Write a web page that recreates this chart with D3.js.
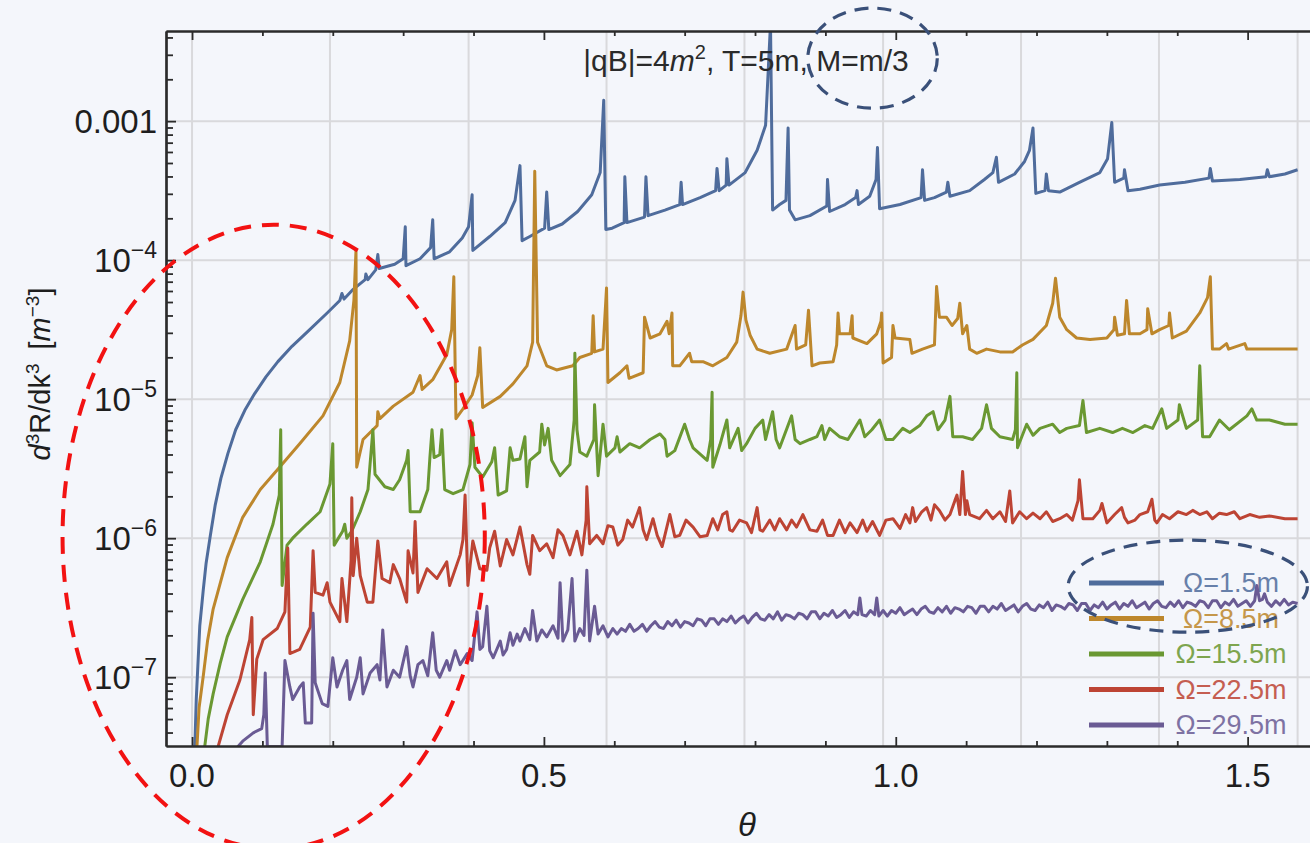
<!DOCTYPE html>
<html><head><meta charset="utf-8">
<script src="https://cdn.jsdelivr.net/npm/d3@7"></script>
<style>
body{margin:0;background:#f4f6fb;}
svg{display:block;font-family:"Liberation Sans",Arial,sans-serif;}
</style>
</head><body>
<svg id="chart" width="1310" height="843"></svg>
<script>
// ---------------- DATA (theta, log10 of d3R/dk3 in m^-3) ----------------
const seriesNames = ["Ω=1.5m", "Ω=8.5m", "Ω=15.5m", "Ω=22.5m", "Ω=29.5m"];
const seriesColors = ["#4f6c9c", "#bd872c", "#6a9832", "#bd4434", "#6a5b94"];

const omega1_5 = [[0.004,-7.50],[0.006,-7.16],[0.009,-6.84],[0.011,-6.63],[0.016,-6.37],[0.020,-6.18],[0.026,-5.98],[0.033,-5.76],[0.041,-5.57],[0.051,-5.39],[0.062,-5.22],[0.075,-5.08],[0.089,-4.96],[0.105,-4.84],[0.122,-4.73],[0.142,-4.62],[0.165,-4.51],[0.192,-4.38],[0.210,-4.29],[0.213,-4.24],[0.216,-4.28],[0.229,-4.21],[0.246,-4.14],[0.247,-4.10],[0.250,-4.14],[0.261,-4.07],[0.264,-3.96],[0.266,-4.06],[0.288,-4.03],[0.300,-3.99],[0.303,-3.76],[0.304,-4.04],[0.324,-3.99],[0.339,-3.91],[0.342,-3.71],[0.344,-3.99],[0.366,-3.94],[0.384,-3.84],[0.393,-3.76],[0.398,-3.53],[0.399,-3.93],[0.423,-3.83],[0.445,-3.73],[0.459,-3.57],[0.466,-3.32],[0.469,-3.86],[0.480,-3.83],[0.501,-3.77],[0.504,-3.51],[0.507,-3.78],[0.526,-3.74],[0.548,-3.65],[0.568,-3.53],[0.580,-3.37],[0.585,-2.85],[0.588,-3.78],[0.597,-3.77],[0.614,-3.73],[0.615,-3.40],[0.618,-3.73],[0.643,-3.69],[0.645,-3.40],[0.648,-3.68],[0.672,-3.64],[0.693,-3.60],[0.695,-3.44],[0.697,-3.60],[0.722,-3.55],[0.744,-3.50],[0.746,-3.34],[0.749,-3.50],[0.759,-3.46],[0.760,-3.27],[0.763,-3.46],[0.786,-3.37],[0.803,-3.21],[0.815,-3.03],[0.822,-2.30],[0.825,-3.64],[0.835,-3.60],[0.844,-3.57],[0.847,-3.05],[0.849,-3.64],[0.857,-3.71],[0.878,-3.68],[0.902,-3.61],[0.903,-3.42],[0.906,-3.65],[0.928,-3.60],[0.943,-3.55],[0.945,-3.50],[0.947,-3.60],[0.963,-3.54],[0.972,-3.42],[0.974,-3.19],[0.977,-3.63],[1.006,-3.60],[1.036,-3.55],[1.038,-3.35],[1.041,-3.57],[1.055,-3.55],[1.072,-3.51],[1.074,-3.44],[1.077,-3.54],[1.105,-3.50],[1.126,-3.42],[1.138,-3.37],[1.143,-3.26],[1.146,-3.44],[1.169,-3.38],[1.183,-3.29],[1.190,-3.21],[1.195,-3.05],[1.199,-3.52],[1.212,-3.50],[1.214,-3.38],[1.217,-3.50],[1.233,-3.51],[1.261,-3.44],[1.290,-3.37],[1.301,-3.27],[1.307,-3.01],[1.311,-3.44],[1.324,-3.41],[1.325,-3.35],[1.330,-3.50],[1.347,-3.49],[1.375,-3.46],[1.411,-3.44],[1.445,-3.41],[1.447,-3.34],[1.450,-3.43],[1.489,-3.42],[1.526,-3.40],[1.528,-3.35],[1.531,-3.40],[1.553,-3.38],[1.571,-3.35]];

const omega8_5 = [[0.007,-7.50],[0.010,-7.22],[0.016,-6.99],[0.022,-6.74],[0.030,-6.51],[0.050,-6.14],[0.072,-5.85],[0.097,-5.65],[0.121,-5.51],[0.153,-5.32],[0.186,-5.12],[0.210,-4.88],[0.224,-4.58],[0.230,-4.29],[0.233,-3.93],[0.234,-5.49],[0.243,-5.29],[0.263,-5.19],[0.264,-5.09],[0.267,-5.14],[0.286,-5.05],[0.314,-4.95],[0.324,-4.83],[0.327,-4.93],[0.342,-4.86],[0.362,-4.68],[0.369,-4.50],[0.372,-4.12],[0.375,-5.14],[0.385,-5.07],[0.398,-4.97],[0.406,-4.83],[0.409,-4.63],[0.413,-5.06],[0.438,-4.98],[0.456,-4.89],[0.476,-4.76],[0.484,-4.59],[0.487,-3.36],[0.491,-4.59],[0.504,-4.76],[0.518,-4.79],[0.541,-4.76],[0.551,-4.70],[0.568,-4.67],[0.570,-4.40],[0.572,-4.66],[0.584,-4.64],[0.588,-4.29],[0.589,-4.20],[0.591,-4.88],[0.608,-4.81],[0.618,-4.76],[0.621,-4.85],[0.641,-4.81],[0.643,-4.41],[0.651,-4.56],[0.665,-4.53],[0.675,-4.44],[0.678,-4.53],[0.682,-4.38],[0.683,-4.76],[0.693,-4.76],[0.707,-4.67],[0.710,-4.73],[0.726,-4.73],[0.740,-4.76],[0.760,-4.70],[0.774,-4.59],[0.780,-4.40],[0.783,-4.23],[0.787,-4.43],[0.793,-4.54],[0.803,-4.64],[0.821,-4.67],[0.845,-4.64],[0.857,-4.47],[0.859,-4.64],[0.872,-4.61],[0.876,-4.36],[0.881,-4.76],[0.892,-4.74],[0.911,-4.73],[0.916,-4.61],[0.918,-4.38],[0.920,-4.53],[0.935,-4.53],[0.938,-4.40],[0.939,-4.56],[0.959,-4.60],[0.973,-4.53],[0.979,-4.44],[0.980,-4.38],[0.982,-4.74],[0.994,-4.70],[0.996,-4.47],[0.999,-4.56],[1.020,-4.57],[1.023,-4.67],[1.038,-4.64],[1.055,-4.61],[1.058,-4.19],[1.062,-4.41],[1.072,-4.41],[1.080,-4.47],[1.088,-4.42],[1.091,-4.31],[1.095,-4.53],[1.101,-4.47],[1.105,-4.64],[1.115,-4.67],[1.129,-4.64],[1.148,-4.66],[1.166,-4.66],[1.180,-4.61],[1.195,-4.57],[1.214,-4.47],[1.223,-4.31],[1.227,-4.13],[1.233,-4.41],[1.243,-4.50],[1.257,-4.56],[1.276,-4.57],[1.300,-4.56],[1.310,-4.50],[1.311,-4.41],[1.315,-4.54],[1.325,-4.53],[1.328,-4.29],[1.332,-4.53],[1.347,-4.53],[1.357,-4.50],[1.358,-4.35],[1.364,-4.53],[1.375,-4.50],[1.388,-4.47],[1.389,-4.38],[1.393,-4.56],[1.413,-4.51],[1.432,-4.38],[1.443,-4.27],[1.447,-4.12],[1.450,-4.64],[1.460,-4.64],[1.470,-4.60],[1.473,-4.64],[1.496,-4.60],[1.499,-4.64],[1.531,-4.64],[1.571,-4.64]];

const omega15_5 = [[0.018,-7.50],[0.023,-7.30],[0.030,-7.12],[0.040,-6.90],[0.050,-6.71],[0.072,-6.44],[0.097,-6.17],[0.115,-5.90],[0.124,-5.69],[0.126,-5.22],[0.128,-6.34],[0.135,-6.05],[0.143,-6.00],[0.163,-5.90],[0.182,-5.81],[0.196,-5.61],[0.200,-5.32],[0.202,-6.05],[0.214,-5.95],[0.217,-5.90],[0.220,-6.00],[0.227,-5.95],[0.239,-5.81],[0.250,-5.65],[0.257,-5.22],[0.260,-5.54],[0.274,-5.63],[0.286,-5.65],[0.295,-5.58],[0.305,-5.44],[0.307,-5.37],[0.310,-5.81],[0.324,-5.81],[0.335,-5.65],[0.338,-5.42],[0.341,-5.22],[0.344,-5.42],[0.352,-5.40],[0.355,-5.22],[0.359,-5.65],[0.371,-5.68],[0.385,-5.65],[0.395,-5.47],[0.398,-5.17],[0.402,-5.49],[0.413,-5.56],[0.426,-5.45],[0.430,-5.35],[0.435,-5.69],[0.447,-5.66],[0.452,-5.35],[0.456,-5.44],[0.466,-5.43],[0.473,-5.27],[0.476,-5.63],[0.480,-5.44],[0.494,-5.38],[0.497,-5.18],[0.501,-5.33],[0.506,-5.21],[0.511,-5.44],[0.523,-5.55],[0.537,-5.47],[0.543,-5.15],[0.544,-4.67],[0.547,-5.22],[0.551,-5.38],[0.561,-5.41],[0.571,-5.29],[0.572,-5.04],[0.577,-5.55],[0.582,-5.29],[0.584,-5.18],[0.589,-5.41],[0.601,-5.35],[0.604,-5.27],[0.608,-5.38],[0.622,-5.32],[0.636,-5.35],[0.651,-5.29],[0.665,-5.25],[0.672,-5.29],[0.675,-5.41],[0.686,-5.37],[0.700,-5.18],[0.707,-5.29],[0.712,-5.35],[0.732,-5.44],[0.737,-5.29],[0.739,-4.95],[0.740,-5.49],[0.750,-5.33],[0.760,-5.15],[0.764,-5.35],[0.776,-5.21],[0.781,-5.37],[0.788,-5.32],[0.800,-5.21],[0.811,-5.15],[0.815,-5.29],[0.825,-5.09],[0.830,-5.29],[0.835,-5.35],[0.852,-5.12],[0.857,-5.29],[0.864,-5.32],[0.878,-5.29],[0.888,-5.27],[0.895,-5.19],[0.899,-5.29],[0.906,-5.21],[0.920,-5.27],[0.932,-5.29],[0.949,-5.15],[0.956,-5.27],[0.966,-5.22],[0.977,-5.15],[0.986,-5.29],[0.996,-5.29],[1.010,-5.21],[1.020,-5.24],[1.034,-5.19],[1.044,-5.12],[1.053,-5.09],[1.060,-5.22],[1.070,-5.15],[1.077,-4.98],[1.081,-5.27],[1.095,-5.27],[1.109,-5.29],[1.122,-5.21],[1.129,-5.04],[1.136,-5.21],[1.148,-5.27],[1.166,-5.29],[1.170,-5.22],[1.172,-4.81],[1.173,-5.35],[1.186,-5.18],[1.195,-5.26],[1.205,-5.21],[1.223,-5.18],[1.233,-5.24],[1.243,-5.21],[1.261,-5.19],[1.266,-5.01],[1.271,-5.24],[1.290,-5.21],[1.308,-5.24],[1.322,-5.21],[1.337,-5.24],[1.354,-5.19],[1.365,-5.21],[1.378,-5.07],[1.385,-5.21],[1.401,-5.15],[1.403,-5.04],[1.413,-5.21],[1.429,-5.15],[1.432,-4.76],[1.436,-5.27],[1.446,-5.27],[1.460,-5.15],[1.474,-5.22],[1.499,-5.12],[1.506,-5.07],[1.513,-5.15],[1.531,-5.15],[1.553,-5.18],[1.571,-5.18]];

const omega22_5 = [[0.037,-7.50],[0.050,-7.27],[0.068,-7.02],[0.082,-6.73],[0.085,-6.57],[0.087,-7.27],[0.092,-6.87],[0.101,-6.73],[0.121,-6.65],[0.132,-6.53],[0.136,-6.07],[0.139,-6.83],[0.153,-6.80],[0.168,-6.64],[0.172,-6.09],[0.175,-6.39],[0.186,-6.41],[0.192,-6.32],[0.196,-6.46],[0.210,-6.60],[0.213,-6.29],[0.220,-6.60],[0.226,-6.16],[0.227,-5.71],[0.229,-6.27],[0.234,-6.00],[0.239,-6.27],[0.249,-6.46],[0.257,-6.46],[0.264,-6.02],[0.270,-6.29],[0.281,-6.32],[0.286,-6.19],[0.295,-6.29],[0.305,-6.46],[0.307,-6.09],[0.314,-6.25],[0.317,-5.88],[0.321,-6.39],[0.334,-6.22],[0.348,-6.29],[0.362,-6.17],[0.366,-6.34],[0.381,-6.12],[0.385,-6.01],[0.388,-5.69],[0.392,-6.34],[0.399,-6.02],[0.409,-6.22],[0.419,-6.23],[0.423,-6.07],[0.430,-5.95],[0.438,-6.20],[0.447,-6.01],[0.456,-6.12],[0.466,-5.92],[0.476,-6.19],[0.480,-6.26],[0.484,-5.98],[0.494,-6.09],[0.504,-6.04],[0.513,-6.14],[0.520,-5.94],[0.527,-5.98],[0.537,-6.12],[0.547,-5.95],[0.554,-6.12],[0.560,-5.87],[0.561,-5.63],[0.565,-6.04],[0.575,-5.98],[0.584,-6.04],[0.591,-5.91],[0.598,-5.92],[0.605,-6.05],[0.612,-6.01],[0.619,-5.87],[0.626,-5.92],[0.636,-5.78],[0.641,-5.94],[0.646,-6.01],[0.655,-5.86],[0.661,-5.98],[0.668,-6.06],[0.679,-5.83],[0.686,-5.99],[0.693,-5.98],[0.702,-5.87],[0.712,-5.92],[0.722,-5.99],[0.732,-5.98],[0.740,-5.86],[0.747,-5.94],[0.754,-5.83],[0.760,-5.81],[0.764,-5.94],[0.768,-5.95],[0.778,-5.87],[0.788,-5.89],[0.795,-5.96],[0.803,-5.78],[0.807,-5.94],[0.811,-5.95],[0.821,-5.87],[0.828,-5.94],[0.835,-5.86],[0.845,-5.94],[0.852,-5.87],[0.859,-5.92],[0.868,-5.83],[0.878,-5.94],[0.888,-5.95],[0.896,-5.87],[0.903,-5.98],[0.911,-5.98],[0.920,-5.87],[0.928,-5.96],[0.935,-5.89],[0.945,-5.96],[0.953,-5.87],[0.959,-5.95],[0.967,-5.88],[0.977,-5.98],[0.986,-5.87],[0.996,-5.86],[1.006,-5.93],[1.014,-5.83],[1.020,-5.89],[1.024,-5.78],[1.028,-5.88],[1.037,-5.81],[1.044,-5.78],[1.050,-5.87],[1.055,-5.76],[1.062,-5.80],[1.070,-5.87],[1.077,-5.83],[1.084,-5.73],[1.087,-5.69],[1.091,-5.83],[1.095,-5.52],[1.099,-5.83],[1.101,-5.73],[1.105,-5.83],[1.119,-5.86],[1.129,-5.80],[1.138,-5.86],[1.148,-5.81],[1.156,-5.88],[1.162,-5.66],[1.166,-5.89],[1.176,-5.81],[1.186,-5.86],[1.195,-5.82],[1.205,-5.86],[1.214,-5.81],[1.223,-5.88],[1.233,-5.86],[1.243,-5.83],[1.251,-5.87],[1.259,-5.73],[1.261,-5.58],[1.266,-5.86],[1.280,-5.86],[1.290,-5.80],[1.293,-5.75],[1.297,-5.83],[1.300,-5.89],[1.311,-5.83],[1.321,-5.78],[1.325,-5.85],[1.330,-5.89],[1.340,-5.87],[1.347,-5.83],[1.358,-5.81],[1.364,-5.72],[1.368,-5.87],[1.371,-5.89],[1.379,-5.83],[1.389,-5.86],[1.401,-5.81],[1.413,-5.83],[1.422,-5.80],[1.432,-5.83],[1.442,-5.81],[1.450,-5.86],[1.460,-5.82],[1.470,-5.83],[1.481,-5.81],[1.489,-5.86],[1.503,-5.83],[1.517,-5.85],[1.531,-5.84],[1.553,-5.86],[1.571,-5.86]];

const omega29_5 = [[0.065,-7.50],[0.072,-7.46],[0.087,-7.40],[0.099,-7.37],[0.102,-7.27],[0.104,-6.97],[0.107,-7.50],[0.128,-7.50],[0.132,-6.88],[0.139,-7.07],[0.143,-7.16],[0.153,-7.07],[0.158,-7.04],[0.161,-7.33],[0.170,-7.33],[0.172,-6.54],[0.175,-7.04],[0.185,-7.19],[0.193,-7.21],[0.200,-6.86],[0.206,-7.07],[0.214,-6.95],[0.220,-6.88],[0.224,-7.16],[0.234,-7.00],[0.239,-6.86],[0.243,-7.12],[0.253,-6.97],[0.263,-6.91],[0.267,-7.02],[0.271,-6.66],[0.277,-7.07],[0.286,-6.95],[0.295,-7.00],[0.305,-6.78],[0.310,-6.99],[0.314,-7.07],[0.321,-6.91],[0.328,-6.88],[0.335,-6.99],[0.342,-6.68],[0.347,-6.95],[0.352,-7.00],[0.362,-6.88],[0.366,-6.95],[0.374,-6.81],[0.381,-6.91],[0.391,-6.83],[0.398,-6.88],[0.405,-6.53],[0.409,-6.80],[0.413,-6.78],[0.419,-6.49],[0.423,-6.81],[0.428,-6.86],[0.438,-6.74],[0.442,-6.84],[0.447,-6.80],[0.452,-6.68],[0.456,-6.77],[0.462,-6.69],[0.466,-6.74],[0.473,-6.65],[0.480,-6.73],[0.484,-6.52],[0.490,-6.74],[0.497,-6.66],[0.504,-6.71],[0.513,-6.63],[0.520,-6.72],[0.523,-6.32],[0.527,-6.74],[0.534,-6.66],[0.540,-6.29],[0.544,-6.74],[0.551,-6.65],[0.557,-6.70],[0.561,-6.23],[0.565,-6.74],[0.572,-6.49],[0.577,-6.69],[0.584,-6.63],[0.591,-6.71],
[0.598,-6.65],[0.604,-6.69],[0.610,-6.65],[0.616,-6.67],[0.622,-6.62],[0.628,-6.67],[0.634,-6.65],[0.640,-6.62],[0.646,-6.67],[0.652,-6.63],[0.658,-6.60],[0.664,-6.64],[0.670,-6.65],[0.676,-6.60],[0.682,-6.63],[0.688,-6.59],[0.694,-6.64],[0.700,-6.60],[0.706,-6.61],[0.712,-6.63],[0.718,-6.58],[0.724,-6.59],[0.730,-6.63],[0.736,-6.58],[0.742,-6.58],[0.748,-6.62],[0.754,-6.58],[0.760,-6.60],[0.766,-6.56],[0.772,-6.61],[0.778,-6.58],[0.784,-6.56],[0.790,-6.61],[0.796,-6.57],[0.802,-6.54],[0.808,-6.58],[0.814,-6.59],[0.820,-6.55],[0.826,-6.58],[0.832,-6.53],[0.838,-6.59],[0.844,-6.55],[0.850,-6.56],[0.856,-6.58],[0.862,-6.54],[0.868,-6.55],[0.874,-6.58],[0.880,-6.53],[0.886,-6.53],[0.892,-6.58],[0.898,-6.54],[0.904,-6.56],[0.910,-6.52],[0.916,-6.57],[0.922,-6.55],[0.928,-6.52],[0.934,-6.57],[0.940,-6.53],[0.946,-6.55],[0.949,-6.43],[0.952,-6.55],[0.958,-6.56],[0.964,-6.52],[0.970,-6.55],[0.973,-6.43],[0.976,-6.56],[0.982,-6.52],[0.988,-6.56],[0.994,-6.52],[1.000,-6.54],[1.006,-6.50],[1.012,-6.55],[1.018,-6.53],[1.024,-6.51],[1.030,-6.55],[1.036,-6.51],[1.042,-6.49],[1.048,-6.53],[1.054,-6.54],[1.060,-6.50],[1.066,-6.53],[1.072,-6.49],[1.078,-6.54],[1.084,-6.50],[1.090,-6.51],[1.096,-6.53],[1.102,-6.49],[1.108,-6.50],[1.114,-6.54],[1.120,-6.49],[1.126,-6.49],[1.132,-6.53],[1.138,-6.49],[1.144,-6.51],[1.150,-6.47],[1.156,-6.52],[1.162,-6.50],[1.168,-6.48],[1.174,-6.53],[1.180,-6.49],[1.186,-6.47],[1.192,-6.51],[1.198,-6.52],[1.204,-6.48],[1.210,-6.50],[1.216,-6.46],[1.222,-6.52],[1.228,-6.48],[1.234,-6.49],[1.240,-6.51],[1.246,-6.47],[1.252,-6.48],[1.258,-6.52],[1.264,-6.47],[1.270,-6.47],[1.276,-6.52],[1.282,-6.48],[1.288,-6.50],[1.294,-6.46],[1.300,-6.51],[1.306,-6.48],[1.312,-6.46],[1.318,-6.51],[1.324,-6.47],[1.330,-6.49],[1.336,-6.45],[1.342,-6.50],[1.348,-6.48],[1.354,-6.46],[1.360,-6.51],[1.366,-6.47],[1.372,-6.45],[1.378,-6.49],[1.384,-6.50],[1.390,-6.46],[1.396,-6.49],[1.402,-6.45],[1.408,-6.50],[1.414,-6.46],[1.420,-6.47],[1.426,-6.49],[1.432,-6.45],[1.438,-6.46],[1.444,-6.50],[1.450,-6.45],[1.456,-6.45],[1.462,-6.50],[1.468,-6.46],[1.474,-6.48],[1.480,-6.44],[1.486,-6.49],[1.492,-6.47],[1.498,-6.45],[1.504,-6.49],[1.510,-6.45],[1.513,-6.34],[1.517,-6.45],[1.521,-6.44],[1.524,-6.40],[1.528,-6.46],[1.534,-6.49],[1.540,-6.45],[1.546,-6.48],[1.552,-6.44],[1.558,-6.48],[1.564,-6.46],[1.571,-6.47]];

const allSeries = [omega1_5, omega8_5, omega15_5, omega22_5, omega29_5];

// axis ticks
const xMajorTicks = [0, 0.5, 1.0, 1.5];
const xTickLabels = ["0.0", "0.5", "1.0", "1.5"];
const xMinorTicks = [0.1,0.2,0.3,0.4,0.6,0.7,0.8,0.9,1.1,1.2,1.3,1.4,1.6];
const xGridLines = [0, 0.196, 0.393, 0.589, 0.785, 0.982, 1.178, 1.374, 1.571];
const yMajorTicks = [1e-3, 1e-4, 1e-5, 1e-6, 1e-7];
const yTickBase = ["0.001", "10", "10", "10", "10"];
const yTickSup = ["", "−4", "−5", "−6", "−7"];
const yMinorMantissas = [2,3,4,5,6,7,8,9];
const yMinorDecades = [1e-8, 1e-7, 1e-6, 1e-5, 1e-4, 1e-3];

// ---------------- LAYOUT ----------------
const svg = d3.select("#chart");
const P = {left:166, right:1318, top:31, bottom:746};
const x = d3.scaleLinear().domain([-0.037, 1.6]).range([P.left, P.right]);
const y = d3.scaleLog().domain([3.2e-8, 4.45e-3]).range([P.bottom, P.top]);

svg.append("rect").attr("width",1310).attr("height",843).attr("fill","#f4f6fb");

svg.append("defs").append("clipPath").attr("id","clip")
  .append("rect").attr("x",P.left).attr("y",P.top).attr("width",P.right-P.left).attr("height",P.bottom-P.top);

// grid
const grid = svg.append("g").attr("stroke","#d9d9dc").attr("stroke-width",2);
grid.selectAll("line.v").data(xGridLines).join("line")
  .attr("x1",d=>x(d)).attr("x2",d=>x(d)).attr("y1",P.top).attr("y2",P.bottom);
grid.selectAll("line.h").data(yMajorTicks).join("line")
  .attr("y1",d=>y(d)).attr("y2",d=>y(d)).attr("x1",P.left).attr("x2",P.right);

// legend (under the curves)
const legend = svg.append("g");
seriesNames.forEach((name,i)=>{
  const ly = 583 + i*35.5;
  legend.append("line").attr("x1",1089).attr("x2",1164).attr("y1",ly).attr("y2",ly)
    .attr("stroke",seriesColors[i]).attr("stroke-width",5);
  legend.append("text").attr("x",1231).attr("y",ly+9).attr("text-anchor","middle")
    .attr("font-size",27).attr("fill",seriesColors[i]).attr("opacity",0.85).text(name);
});

// curves
const line = d3.line().x(d=>x(d[0])).y(d=>y(Math.pow(10,d[1])));
const curves = svg.append("g").attr("clip-path","url(#clip)");
allSeries.forEach((s,i)=>{
  curves.append("path").datum(s).attr("d",line).attr("fill","none")
    .attr("stroke",seriesColors[i]).attr("stroke-width",3).attr("stroke-linejoin","round");
});

// axes
const axisColor = "#2b2b2b";
function styleAxis(g){
  g.selectAll("path.domain").attr("stroke",axisColor).attr("stroke-width",2.2);
  g.selectAll(".tick line").attr("stroke",axisColor).attr("stroke-width",1.8);
  g.selectAll(".tick text").remove();
}
svg.append("g").attr("transform",`translate(0,${P.bottom})`)
  .call(d3.axisBottom(x).tickValues(xMinorTicks).tickSize(-5).tickSizeOuter(0)).call(styleAxis);
svg.append("g").attr("transform",`translate(0,${P.bottom})`)
  .call(d3.axisBottom(x).tickValues(xMajorTicks).tickSize(-9).tickSizeOuter(0)).call(styleAxis);
svg.append("g").attr("transform",`translate(0,${P.top})`)
  .call(d3.axisTop(x).tickValues(xMinorTicks).tickSize(-5).tickSizeOuter(0)).call(styleAxis);
svg.append("g").attr("transform",`translate(0,${P.top})`)
  .call(d3.axisTop(x).tickValues(xMajorTicks).tickSize(-9).tickSizeOuter(0)).call(styleAxis);

const yMinor = [];
yMinorDecades.forEach(d=>yMinorMantissas.forEach(m=>{const v=d*m; if(v>=3.2e-8 && v<=4.45e-3) yMinor.push(v);}));
svg.append("g").attr("transform",`translate(${P.left},0)`)
  .call(d3.axisLeft(y).tickValues(yMinor).tickSize(-7).tickSizeOuter(0)).call(styleAxis);
svg.append("g").attr("transform",`translate(${P.left},0)`)
  .call(d3.axisLeft(y).tickValues(yMajorTicks).tickSize(-10).tickSizeOuter(0)).call(styleAxis);

// x tick labels
svg.append("g").selectAll("text").data(xMajorTicks).join("text")
  .attr("x",d=>x(d)).attr("y",787).attr("text-anchor","middle")
  .attr("font-size",33).attr("fill","#1e1e1e").text((d,i)=>xTickLabels[i]);

// y tick labels
const yl = svg.append("g");
yMajorTicks.forEach((v,i)=>{
  const t = yl.append("text").attr("x",157).attr("y",y(v)+12).attr("text-anchor","end")
    .attr("font-size",33).attr("fill","#1e1e1e");
  t.append("tspan").text(yTickBase[i]);
  if (yTickSup[i]) t.append("tspan").attr("dy",-14).attr("font-size",23).text(yTickSup[i]);
});

// axis titles
svg.append("text").attr("x",747).attr("y",836).attr("text-anchor","middle")
  .attr("font-size",33).attr("font-style","italic").attr("fill","#1e1e1e").text("θ");

const yt = svg.append("text").attr("transform","translate(50,374) rotate(-90)")
  .attr("text-anchor","middle").attr("font-size",29).attr("fill","#1e1e1e");
yt.append("tspan").attr("font-style","italic").text("d");
yt.append("tspan").attr("dy",-11).attr("font-size",19).text("3");
yt.append("tspan").attr("dy",11).text("R/dk");
yt.append("tspan").attr("dy",-11).attr("font-size",19).text("3");
yt.append("tspan").attr("dy",11).attr("dx",14).text("[");
yt.append("tspan").attr("font-style","italic").text("m");
yt.append("tspan").attr("dy",-11).attr("font-size",19).text("−3");
yt.append("tspan").attr("dy",11).text("]");

// plot title
const tt = svg.append("text").attr("x",746).attr("y",71).attr("text-anchor","middle")
  .attr("font-size",30).attr("fill","#2a2a2a");
tt.append("tspan").text("|qB|=4");
tt.append("tspan").attr("font-style","italic").text("m");
tt.append("tspan").attr("dy",-12).attr("font-size",20).text("2");
tt.append("tspan").attr("dy",12).text(", T=5m, M=m/3");

// annotation ellipses (data coordinates)
const annotations = [
  {cx:0.116, cl:-5.99, rx:0.300, rd:2.245, color:"#f21212", w:4, dash:"17 11"},
  {cx:0.967, cl:-2.547, rx:0.092, rd:0.36, color:"#3a5079", w:3.2, dash:"14 9"},
  {cx:1.415, cl:-6.345, rx:0.170, rd:0.331, color:"#3a5079", w:3.2, dash:"14 9"}
];
annotations.forEach(a=>{
  const cy = y(Math.pow(10,a.cl));
  const ry = y(Math.pow(10,a.cl-a.rd)) - cy;
  svg.append("ellipse").attr("cx",x(a.cx)).attr("cy",cy)
    .attr("rx",x(a.cx+a.rx)-x(a.cx)).attr("ry",ry)
    .attr("fill","none").attr("stroke",a.color).attr("stroke-width",a.w).attr("stroke-dasharray",a.dash);
});
</script>
</body></html>
